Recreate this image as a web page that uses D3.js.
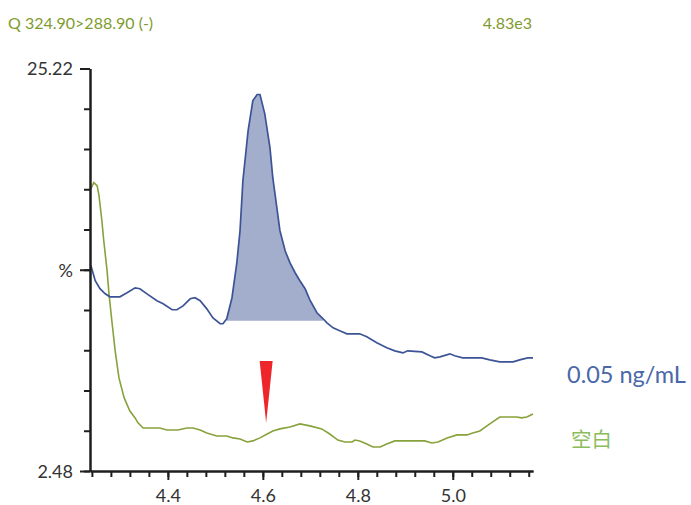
<!DOCTYPE html>
<html>
<head>
<meta charset="utf-8">
<script src="https://cdn.jsdelivr.net/npm/d3@7"></script>
<style>
  body { margin: 0; background: #fff; }
  svg { display: block; }
</style>
</head>
<body>
<div class="chart-container"></div>
<script>
// chromatogram values, retention time (min) and response (%)
const blueRt = [4.238,4.247,4.257,4.268,4.278,4.299,4.314,4.331,4.341,4.356,4.377,4.390,4.409,4.419,4.432,4.447,4.457,4.468,4.482,4.495,4.510,4.516,4.524,4.535,4.545,4.552,4.558,4.569,4.579,4.588,4.594,4.604,4.615,4.621,4.636,4.647,4.657,4.668,4.678,4.689,4.699,4.714,4.727,4.735,4.748,4.762,4.777,4.804,4.819,4.840,4.861,4.878,4.895,4.905,4.935,4.952,4.962,4.973,4.994,5.004,5.021,5.061,5.078,5.099,5.127,5.141,5.158,5.169];
const blueVal = [14.08,13.23,12.78,12.49,12.32,12.32,12.55,12.83,12.78,12.49,12.10,11.93,11.59,11.59,11.81,12.21,12.27,12.10,11.64,11.13,10.80,10.80,11.08,12.27,14.19,16.06,18.88,21.71,23.41,23.75,23.75,22.67,20.75,19.05,16.06,14.92,14.25,13.68,13.23,12.78,12.15,11.42,11.08,10.85,10.57,10.40,10.23,10.23,10.06,9.72,9.44,9.27,9.15,9.27,9.21,8.99,8.87,8.93,9.10,8.99,8.87,8.87,8.76,8.65,8.65,8.76,8.87,8.87];

const greenRt = [4.238,4.244,4.251,4.255,4.261,4.265,4.272,4.276,4.282,4.289,4.297,4.308,4.320,4.331,4.337,4.348,4.383,4.398,4.421,4.440,4.453,4.468,4.482,4.503,4.524,4.537,4.552,4.567,4.579,4.594,4.609,4.621,4.636,4.657,4.678,4.699,4.724,4.741,4.758,4.773,4.788,4.794,4.804,4.819,4.832,4.847,4.861,4.878,4.941,4.956,4.969,4.988,5.009,5.030,5.042,5.057,5.078,5.099,5.135,5.145,5.156,5.169];
const greenVal = [18.43,18.77,18.60,18.04,16.62,15.49,13.79,12.49,10.97,9.27,7.74,6.61,5.87,5.48,5.20,4.91,4.91,4.80,4.80,4.91,4.91,4.80,4.63,4.46,4.46,4.35,4.29,4.12,4.18,4.35,4.57,4.74,4.86,4.97,5.14,5.03,4.86,4.57,4.23,4.12,4.12,4.23,4.18,4.01,3.84,3.84,4.01,4.18,4.18,4.06,4.12,4.35,4.52,4.52,4.63,4.74,5.14,5.53,5.53,5.48,5.53,5.70];

const seriesNames = ['0.05 ng/mL', '空白'];
const titleText = 'Q 324.90>288.90 (-)';
const intensityText = '4.83e3';

const yMin = 2.48, yMax = 25.22;
const xMin = 4.236, xMax = 5.169;
const xMajor = [4.4, 4.6, 4.8, 5.0];
const xMinor = d3.range(24).map(i => +(4.24 + i * 0.04).toFixed(2));
const yMinor = d3.range(11).map(i => yMin + i * (yMax - yMin) / 10);
const yMajor = [yMin, (yMin + yMax) / 2, yMax];
const yLabels = ['2.48', '%', '25.22'];

const peakStart = 4.522, peakEnd = 4.733, peakBase = 10.97;
const markerRt = 4.607, markerTop = 8.70, markerTip = 5.2;

const W = 691, H = 505;
const margin = { t: 68.5, r: 158, b: 34, l: 90 };
const font = 'Lato, "Open Sans", sans-serif';

const blueColor = '#3c5396';
const greenColor = '#87a23b';

const x = d3.scaleLinear().domain([xMin, xMax]).range([margin.l, W - margin.r]);
const y = d3.scaleLinear().domain([yMin, yMax]).range([H - margin.b, margin.t]);

const svg = d3.select('.chart-container')
  .append('svg')
  .attr('width', W)
  .attr('height', H)
  .style('font-family', font);

const blue = blueRt.map((t, i) => ({ t, v: blueVal[i] }));
const green = greenRt.map((t, i) => ({ t, v: greenVal[i] }));

// integrated peak
const peak = blue.filter(d => d.t >= peakStart && d.t <= peakEnd);
svg.append('path')
  .datum(peak)
  .attr('fill', '#a3adcc')
  .attr('d', d3.area()
    .x(d => x(d.t))
    .y0(y(peakBase))
    .y1(d => y(Math.max(d.v, peakBase))));

const line = d3.line().x(d => x(d.t)).y(d => y(d.v));

svg.append('path')
  .datum(green)
  .attr('fill', 'none')
  .attr('stroke', greenColor)
  .attr('stroke-width', 1.6)
  .attr('d', line);

svg.append('path')
  .datum(blue)
  .attr('fill', 'none')
  .attr('stroke', blueColor)
  .attr('stroke-width', 1.7)
  .attr('d', line);

// red marker
const mx = x(markerRt);
svg.append('path')
  .attr('fill', '#ee262c')
  .attr('d', `M${mx - 6.5},${y(markerTop)}L${mx + 6.5},${y(markerTop)}L${mx},${y(markerTip)}Z`);

// axes
const axisYMinor = d3.axisLeft(y).tickValues(yMinor).tickSize(6).tickSizeOuter(0).tickFormat('');
const axisYMajor = d3.axisLeft(y).tickValues(yMajor).tickSize(10).tickSizeOuter(0).tickPadding(7)
  .tickFormat((d, i) => yLabels[i]);

const gy = svg.append('g').attr('transform', `translate(${margin.l}, 0)`);
gy.append('g').call(axisYMinor);
gy.append('g').call(axisYMajor);

const axisXMinor = d3.axisBottom(x).tickValues(xMinor).tickSize(6).tickSizeOuter(0).tickFormat('');
const axisXMajor = d3.axisBottom(x).tickValues(xMajor).tickSize(9).tickSizeOuter(0).tickPadding(9)
  .tickFormat(d3.format('.1f'));

const gx = svg.append('g').attr('transform', `translate(0, ${H - margin.b})`);
gx.append('g').call(axisXMinor);
gx.append('g').call(axisXMajor);

svg.selectAll('.domain').attr('stroke', '#1e1e1e').attr('stroke-width', 2);
svg.selectAll('.tick line').attr('stroke', '#1e1e1e').attr('stroke-width', 2);
svg.selectAll('.tick text')
  .attr('fill', '#333')
  .style('font-size', '18px')
  .style('font-family', font);
gy.selectAll('.tick text').attr('dy', '0.36em');

// header
svg.append('text')
  .attr('x', 8).attr('y', 29)
  .attr('fill', '#7f9b2f')
  .style('font-size', '16px')
  .text(titleText);

svg.append('text')
  .attr('x', 532).attr('y', 29)
  .attr('text-anchor', 'end')
  .attr('fill', '#7f9b2f')
  .style('font-size', '16px')
  .text(intensityText);

// series labels
svg.append('text')
  .attr('x', 567).attr('y', 383)
  .attr('fill', '#4a68a8')
  .style('font-size', '23.5px')
  .text(seriesNames[0]);

svg.append('text')
  .attr('x', 571).attr('y', 447)
  .attr('fill', '#8bbd5c')
  .style('font-size', '20.5px')
  .style('font-family', '"Noto Sans CJK SC", sans-serif')
  .text(seriesNames[1]);
</script>
</body>
</html>
